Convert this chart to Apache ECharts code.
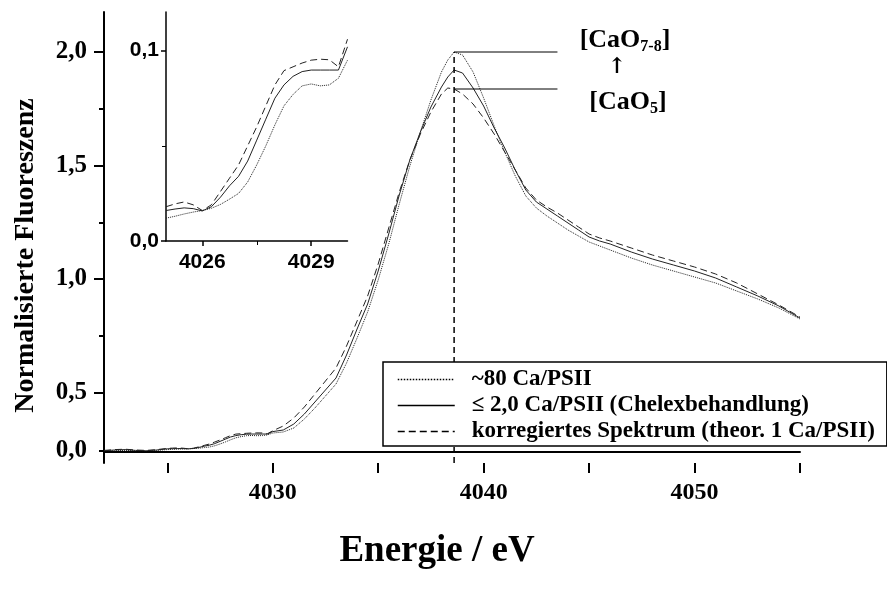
<!DOCTYPE html>
<html>
<head>
<meta charset="utf-8">
<script src="https://cdn.jsdelivr.net/npm/echarts@6/dist/echarts.min.js"></script>
<style>
html, body { margin: 0; padding: 0; background: #fff; }
#container { width: 887px; height: 603px; }
</style>
</head>
<body>
<div id="container"></div>
<script>
var seriesNames = ['~80 Ca/PSII', '\u2264 2,0 Ca/PSII (Chelexbehandlung)', 'korregiertes Spektrum (theor. 1 Ca/PSII)'];

// lead-in before the inset window (main plot only)
var leadEnergy = [4022, 4022.5, 4023, 4023.5, 4024, 4024.5];
var leadDotted = [0.004, 0.006, 0.008, 0.006, 0.004, 0.008];
var leadSolid  = [0.006, 0.010, 0.012, 0.008, 0.006, 0.010];
var leadDashed = [0.008, 0.012, 0.014, 0.010, 0.008, 0.012];

// pre-edge region, shown in the inset as well
var preEnergy = [4025, 4025.25, 4025.5, 4025.75, 4026, 4026.25, 4026.5, 4026.75, 4027, 4027.25, 4027.5,
                 4027.75, 4028, 4028.25, 4028.5, 4028.75, 4029, 4029.25, 4029.5, 4029.75, 4030];
var preDotted = [0.012, 0.013, 0.0142, 0.0152, 0.016, 0.0172, 0.0192, 0.022, 0.025, 0.031, 0.040,
                 0.050, 0.061, 0.071, 0.077, 0.0815, 0.0825, 0.0815, 0.082, 0.0855, 0.095];
var preSolid  = [0.016, 0.0168, 0.0174, 0.017, 0.0158, 0.018, 0.023, 0.029, 0.034, 0.042, 0.053,
                 0.064, 0.075, 0.082, 0.0865, 0.089, 0.0898, 0.0898, 0.0898, 0.0898, 0.102];
var preDashed = [0.018, 0.0195, 0.0205, 0.019, 0.016, 0.019, 0.026, 0.033, 0.040, 0.050, 0.060,
                 0.071, 0.082, 0.0895, 0.0915, 0.0935, 0.095, 0.0955, 0.0952, 0.0915, 0.106];

// main edge
var edgeEnergy = [4030.5, 4031, 4031.5, 4032, 4032.5, 4033, 4033.5, 4034, 4034.5, 4035, 4035.5, 4036,
                  4036.5, 4037, 4037.5, 4038, 4038.3, 4038.6, 4039, 4039.5, 4040, 4040.5, 4041, 4041.5,
                  4042, 4042.5, 4043, 4043.5, 4044, 4044.5, 4045, 4045.5, 4046, 4047, 4048, 4049, 4050,
                  4051, 4052, 4053, 4054, 4055];
var edgeDotted = [0.10, 0.12, 0.165, 0.22, 0.28, 0.34, 0.445, 0.57, 0.70, 0.86, 1.04, 1.24,
                  1.43, 1.60, 1.76, 1.90, 1.96, 2.00, 1.985, 1.90, 1.77, 1.63, 1.50, 1.38,
                  1.28, 1.22, 1.18, 1.145, 1.11, 1.08, 1.05, 1.03, 1.01, 0.97, 0.935, 0.905, 0.875,
                  0.845, 0.805, 0.765, 0.72, 0.665];
var edgeSolid  = [0.11, 0.14, 0.19, 0.25, 0.31, 0.37, 0.485, 0.615, 0.74, 0.905, 1.09, 1.285,
                  1.46, 1.60, 1.725, 1.825, 1.875, 1.91, 1.895, 1.82, 1.73, 1.62, 1.52, 1.41,
                  1.31, 1.25, 1.215, 1.18, 1.145, 1.11, 1.075, 1.055, 1.04, 1.00, 0.965, 0.935, 0.905,
                  0.87, 0.825, 0.78, 0.73, 0.67];
var edgeDashed = [0.13, 0.17, 0.225, 0.29, 0.355, 0.42, 0.53, 0.655, 0.78, 0.94, 1.12, 1.30,
                  1.46, 1.59, 1.70, 1.79, 1.82, 1.815, 1.79, 1.74, 1.67, 1.59, 1.50, 1.41,
                  1.32, 1.26, 1.225, 1.195, 1.16, 1.125, 1.09, 1.07, 1.055, 1.02, 0.985, 0.955, 0.925,
                  0.89, 0.845, 0.79, 0.735, 0.675];

// peak marker and reference levels
var peakEnergy = 4038.6;
var levelEnd = 4043.5;
var levelCaO78 = 2.0;
var levelCaO5 = 1.815;
var baselineEnergy = [4022, 4034];

var serif = 'Liberation Serif, Times New Roman, serif';
var sans = 'Liberation Sans, Arial, sans-serif';

function pairs(xs, ys) {
    return xs.map(function (x, i) { return [x, ys[i]]; });
}
function comma(v, d) {
    return v.toFixed(d).replace('.', ',');
}

var mainDotted = pairs(leadEnergy.concat(preEnergy, edgeEnergy), leadDotted.concat(preDotted, edgeDotted));
var mainSolid  = pairs(leadEnergy.concat(preEnergy, edgeEnergy), leadSolid.concat(preSolid, edgeSolid));
var mainDashed = pairs(leadEnergy.concat(preEnergy, edgeEnergy), leadDashed.concat(preDashed, edgeDashed));

var styles = [
    { color: '#222', width: 1, type: 'dotted' },
    { color: '#222', width: 1, type: 'solid' },
    { color: '#222', width: 1, type: [7, 4] }
];

var hidden = { show: false };
var noSplit = { show: false };

var dom = document.getElementById('container');
var myChart = echarts.init(dom);

var option = {
    animation: false,
    backgroundColor: '#fff',
    grid: [
        { left: 104, top: 12, width: 696, height: 451 },          // main data
        { left: 167.3, top: 52, width: 632.7, height: 340.5 },     // main ticks 4025..4055 / 0,5..2,0
        { left: 104, top: 392.5, width: 696, height: 58.5 },       // the "0,0" tick
        { left: 166, top: 12, width: 181.5, height: 229 },         // inset data
        { left: 202.3, top: 50.7, width: 108.9, height: 190.3 }    // inset ticks
    ],
    xAxis: [
        {
            gridIndex: 0, type: 'value', min: 4022, max: 4055,
            axisLine: { lineStyle: { color: '#000', width: 2 } },
            axisTick: hidden, axisLabel: hidden, splitLine: noSplit,
            name: 'Energie / eV', nameLocation: 'middle', nameGap: 70,
            nameTextStyle: { fontFamily: serif, fontWeight: 'bold', fontSize: 37, color: '#000', padding: [0, 30, 0, 0] }
        },
        {
            gridIndex: 1, type: 'value', min: 4025, max: 4055, interval: 5, offset: 70.5,
            axisLine: hidden, splitLine: noSplit,
            axisTick: { length: 10, lineStyle: { color: '#000', width: 2 } },
            axisLabel: {
                margin: 18, fontFamily: serif, fontWeight: 'bold', fontSize: 24, color: '#000',
                formatter: function (v) { return v % 10 === 0 ? String(v) : ''; }
            }
        },
        { gridIndex: 2, type: 'value', min: 0, max: 1, show: false },
        {
            gridIndex: 3, type: 'value', min: 4025, max: 4030,
            axisLine: { lineStyle: { color: '#000', width: 1.5 } },
            axisTick: hidden, axisLabel: hidden, splitLine: noSplit
        },
        {
            gridIndex: 4, type: 'value', min: 4026, max: 4029, interval: 3,
            axisLine: hidden, splitLine: noSplit,
            axisTick: { length: 5, lineStyle: { color: '#000', width: 1.5 } },
            minorTick: { show: true, splitNumber: 2, length: 4, lineStyle: { color: '#000', width: 1 } },
            axisLabel: {
                margin: 11, fontFamily: sans, fontWeight: 'bold', fontSize: 21, color: '#000',
                formatter: function (v) { return String(v); }
            }
        }
    ],
    yAxis: [
        {
            gridIndex: 0, type: 'value', min: -0.055, max: 2.2,
            axisLine: { lineStyle: { color: '#000', width: 2 } },
            axisTick: hidden, axisLabel: hidden, splitLine: noSplit,
            name: 'Normalisierte Fluoreszenz', nameLocation: 'middle', nameGap: 64, nameRotate: 90,
            nameTextStyle: { fontFamily: serif, fontWeight: 'bold', fontSize: 28, color: '#000', padding: [0, 36, 0, 0] }
        },
        {
            gridIndex: 1, type: 'value', min: 0.5, max: 2.0, interval: 0.5, offset: 63.3,
            axisLine: hidden, splitLine: noSplit,
            axisTick: { length: 10, lineStyle: { color: '#000', width: 2 } },
            minorTick: { show: true, splitNumber: 2, length: 5, lineStyle: { color: '#000', width: 2 } },
            axisLabel: {
                margin: 17, fontFamily: serif, fontWeight: 'bold', fontSize: 25, color: '#000',
                formatter: function (v) { return comma(v, 1); }
            }
        },
        {
            gridIndex: 2, type: 'value', min: 0.25, max: 0.5, interval: 0.25,
            axisLine: hidden, splitLine: noSplit,
            axisTick: { length: 5, lineStyle: { color: '#000', width: 2 } },
            axisLabel: {
                margin: 17, fontFamily: serif, fontWeight: 'bold', fontSize: 25, color: '#000',
                formatter: function (v) { return v === 0.25 ? '0,0' : ''; }
            }
        },
        {
            gridIndex: 3, type: 'value', min: 0, max: 0.1203,
            axisLine: { lineStyle: { color: '#000', width: 1.5 } },
            axisTick: hidden, axisLabel: hidden, splitLine: noSplit
        },
        {
            gridIndex: 4, type: 'value', min: 0, max: 0.1, interval: 0.1, offset: 36.3,
            axisLine: hidden, splitLine: noSplit,
            axisTick: { length: 5, lineStyle: { color: '#000', width: 1.5 } },
            minorTick: { show: true, splitNumber: 2, length: 4, lineStyle: { color: '#000', width: 1 } },
            axisLabel: {
                margin: 7, fontFamily: sans, fontWeight: 'bold', fontSize: 21, color: '#000',
                formatter: function (v) { return comma(v, 1); }
            }
        }
    ],
    legend: {
        data: seriesNames,
        orient: 'vertical',
        left: 383,
        top: 362,
        zlevel: 1,
        backgroundColor: '#fff',
        borderColor: '#000',
        borderWidth: 1.5,
        borderRadius: 0,
        padding: [6, 12, 3, 14],
        itemWidth: 57,
        itemHeight: 12,
        itemGap: 3,
        selectedMode: false,
        itemStyle: { color: 'transparent', borderColor: 'transparent', borderWidth: 0 },
        lineStyle: { width: 1.5, color: '#000' },
        textStyle: { fontFamily: serif, fontWeight: 'bold', fontSize: 23, color: '#000', padding: [0, 0, 0, 12] }
    },
    graphic: [
        {
            type: 'text', x: 625, y: 40, z: 20,
            style: {
                text: '{b|[CaO}{s|7-8}{b|]}', align: 'center', verticalAlign: 'middle',
                rich: {
                    b: { fontFamily: serif, fontWeight: 'bold', fontSize: 26, fill: '#000' },
                    s: { fontFamily: serif, fontWeight: 'bold', fontSize: 16, fill: '#000', padding: [13, 0, 0, 0] }
                }
            }
        },
        {
            type: 'text', x: 617, y: 67, z: 20,
            style: { text: '\u2191', align: 'center', verticalAlign: 'middle', fontFamily: 'DejaVu Serif', fontWeight: 'bold', fontSize: 22, fill: '#000' }
        },
        {
            type: 'text', x: 628, y: 102, z: 20,
            style: {
                text: '{b|[CaO}{s|5}{b|]}', align: 'center', verticalAlign: 'middle',
                rich: {
                    b: { fontFamily: serif, fontWeight: 'bold', fontSize: 26, fill: '#000' },
                    s: { fontFamily: serif, fontWeight: 'bold', fontSize: 16, fill: '#000', padding: [13, 0, 0, 0] }
                }
            }
        }
    ],
    series: [
        { name: seriesNames[0], type: 'line', xAxisIndex: 0, yAxisIndex: 0, data: mainDotted, symbol: 'none', lineStyle: styles[0], silent: true },
        { name: seriesNames[1], type: 'line', xAxisIndex: 0, yAxisIndex: 0, data: mainSolid, symbol: 'none', lineStyle: styles[1], silent: true },
        { name: seriesNames[2], type: 'line', xAxisIndex: 0, yAxisIndex: 0, data: mainDashed, symbol: 'none', lineStyle: styles[2], silent: true },
        { name: seriesNames[0], type: 'line', xAxisIndex: 3, yAxisIndex: 3, data: pairs(preEnergy, preDotted), symbol: 'none', lineStyle: styles[0], silent: true },
        { name: seriesNames[1], type: 'line', xAxisIndex: 3, yAxisIndex: 3, data: pairs(preEnergy, preSolid), symbol: 'none', lineStyle: styles[1], silent: true },
        { name: seriesNames[2], type: 'line', xAxisIndex: 3, yAxisIndex: 3, data: pairs(preEnergy, preDashed), symbol: 'none', lineStyle: styles[2], silent: true },
        {
            name: 'peak', type: 'line', xAxisIndex: 0, yAxisIndex: 0, symbol: 'none', silent: true,
            data: [[peakEnergy, -0.055], [peakEnergy, levelCaO78]],
            lineStyle: { color: '#000', width: 1.5, type: [6, 4] }
        },
        {
            name: 'CaO78', type: 'line', xAxisIndex: 0, yAxisIndex: 0, symbol: 'none', silent: true,
            data: [[peakEnergy, levelCaO78], [levelEnd, levelCaO78]],
            lineStyle: { color: '#000', width: 1 }
        },
        {
            name: 'CaO5', type: 'line', xAxisIndex: 0, yAxisIndex: 0, symbol: 'none', silent: true,
            data: [[peakEnergy, levelCaO5], [levelEnd, levelCaO5]],
            lineStyle: { color: '#000', width: 1 }
        },
        {
            name: 'baseline', type: 'line', xAxisIndex: 0, yAxisIndex: 0, symbol: 'none', silent: true,
            data: [[baselineEnergy[0], 0], [baselineEnergy[1], 0]],
            lineStyle: { color: '#000', width: 1.5 }
        }
    ]
};

myChart.setOption(option);
</script>
</body>
</html>
